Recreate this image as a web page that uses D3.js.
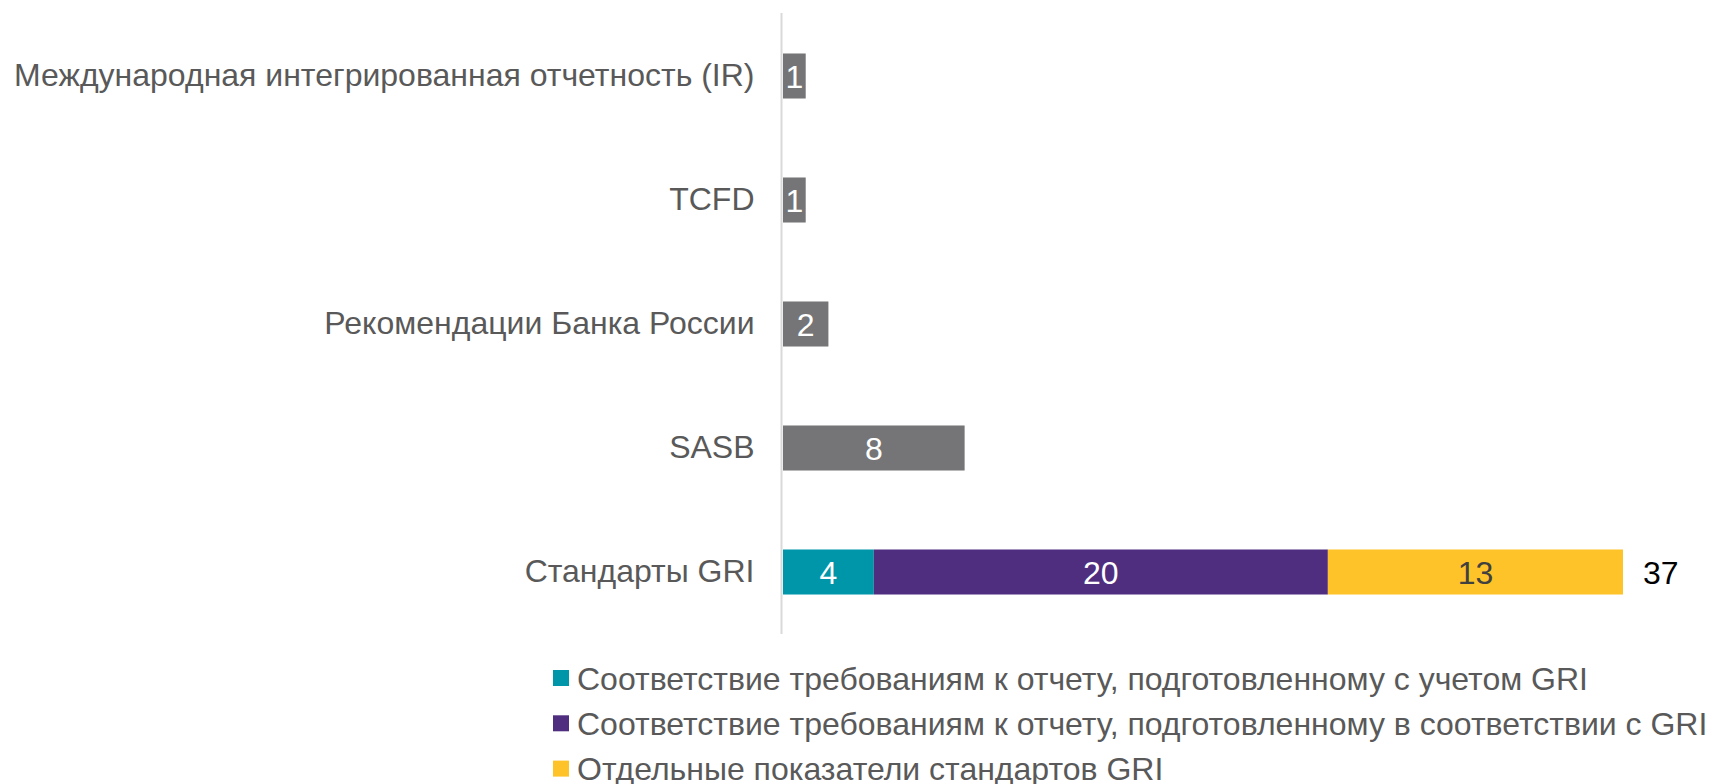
<!DOCTYPE html>
<html>
<head>
<meta charset="utf-8">
<script src="https://cdn.jsdelivr.net/npm/d3@7"></script>
<style>
  body { margin: 0; background: #fff; }
  svg text { font-family: "Liberation Sans", Arial, sans-serif; }
</style>
</head>
<body>
<div id="chart"></div>
<script>
// categories, top to bottom
var categories = ["Международная интегрированная отчетность (IR)", "TCFD", "Рекомендации Банка России", "SASB", "Стандарты GRI"];
// single-value bars (grey)
var singleValues = [1, 1, 2, 8, null];
// GRI stacked series
var griSeries = [
    "Соответствие требованиям к отчету, подготовленному с учетом GRI",
    "Соответствие требованиям к отчету, подготовленному в соответствии с GRI",
    "Отдельные показатели стандартов GRI"
];
var griValues = [4, 20, 13];
var griColors = ["#0096aa", "#4f2d7f", "#fec328"];
var griLabelColors = ["#ffffff", "#ffffff", "#404040"];
var greyColor = "#757577";

var width = 1723, height = 784;
var fontSize = 32;

var svg = d3.select("#chart").append("svg")
    .attr("width", width)
    .attr("height", height);

var xScale = d3.scaleLinear().domain([0, 37]).range([783, 1623]);
var yScale = d3.scaleBand().domain(categories).range([14, 634])
    .paddingInner(0.637).paddingOuter(0.3185);

// grey bars
var singles = categories.map((c, i) => ({cat: c, value: singleValues[i]})).filter(d => d.value != null);

svg.selectAll("rect.single")
    .data(singles)
    .enter()
    .append("rect")
    .attr("class", "single")
    .attr("x", xScale(0))
    .attr("y", d => yScale(d.cat))
    .attr("width", d => xScale(d.value) - xScale(0))
    .attr("height", yScale.bandwidth())
    .attr("fill", greyColor);

svg.selectAll("text.single")
    .data(singles)
    .enter()
    .append("text")
    .attr("class", "single")
    .attr("x", d => (xScale(0) + xScale(d.value)) / 2)
    .attr("y", d => yScale(d.cat) + yScale.bandwidth() / 2)
    .attr("dy", "0.36em")
    .attr("text-anchor", "middle")
    .attr("fill", "#fff")
    .style("font-size", fontSize + "px")
    .text(d => d.value);

// stacked GRI bar
var griCat = categories[4];
var cum = 0;
var stacked = griValues.map((v, i) => {
    var s = {x0: cum, x1: cum + v, value: v, color: griColors[i], labelColor: griLabelColors[i]};
    cum += v;
    return s;
});
var griTotal = d3.sum(griValues);

svg.selectAll("rect.gri")
    .data(stacked)
    .enter()
    .append("rect")
    .attr("class", "gri")
    .attr("x", d => xScale(d.x0))
    .attr("y", yScale(griCat))
    .attr("width", d => xScale(d.x1) - xScale(d.x0))
    .attr("height", yScale.bandwidth())
    .attr("fill", d => d.color);

svg.selectAll("text.gri")
    .data(stacked)
    .enter()
    .append("text")
    .attr("class", "gri")
    .attr("x", d => (xScale(d.x0) + xScale(d.x1)) / 2)
    .attr("y", yScale(griCat) + yScale.bandwidth() / 2)
    .attr("dy", "0.36em")
    .attr("text-anchor", "middle")
    .attr("fill", d => d.labelColor)
    .style("font-size", fontSize + "px")
    .text(d => d.value);

svg.append("text")
    .attr("x", xScale(griTotal) + 20)
    .attr("y", yScale(griCat) + yScale.bandwidth() / 2)
    .attr("dy", "0.36em")
    .attr("fill", "#000")
    .style("font-size", fontSize + "px")
    .text(griTotal);

// category axis
var axis = svg.append("g")
    .attr("transform", "translate(781.5,0)")
    .call(d3.axisLeft(yScale).tickSize(0).tickPadding(27));
axis.select(".domain").attr("stroke", "#d9d9d9").attr("stroke-width", 2)
    .attr("d", "M0,13V634");
axis.selectAll(".tick text")
    .attr("fill", "#595959")
    .style("font-family", "'Liberation Sans', Arial, sans-serif")
    .style("font-size", fontSize + "px");

// legend
var legend = svg.append("g").attr("transform", "translate(553,678)");
var items = legend.selectAll("g")
    .data(griSeries)
    .enter()
    .append("g")
    .attr("transform", (d, i) => "translate(0," + (i * 45.3) + ")");
items.append("rect")
    .attr("x", 0)
    .attr("y", -8)
    .attr("width", 16)
    .attr("height", 16)
    .attr("fill", (d, i) => griColors[i]);
items.append("text")
    .attr("x", 24)
    .attr("y", 0)
    .attr("dy", "0.36em")
    .attr("fill", "#595959")
    .style("font-size", fontSize + "px")
    .text(d => d);
</script>
</body>
</html>
